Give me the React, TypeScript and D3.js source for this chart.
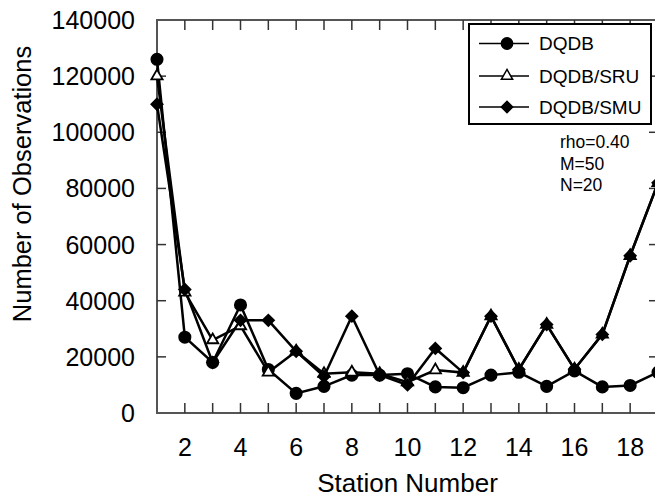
import React, { useEffect, useRef } from 'react';
import * as d3 from 'd3';

// station numbers on the x axis
const stations = [1, 2, 3, 4, 5, 6, 7, 8, 9, 10, 11, 12, 13, 14, 15, 16, 17, 18, 19];

// number of observations per station
const dqdb = [126000, 27000, 18000, 38500, 15500, 7000, 9500, 13500, 13500, 14000, 9300, 9000, 13500, 14500, 9500, 15000, 9300, 9800, 14500];
const dqdbSru = [120000, 43000, 26000, 31000, 14500, 22000, 14000, 14500, 14000, 11000, 15300, 14400, 34500, 15500, 31500, 15600, 28000, 56000, 82000];
const dqdbSmu = [110000, 44000, 18000, 33000, 33000, 22000, 13000, 34500, 13500, 10000, 23000, 14400, 34500, 15500, 31500, 15600, 28000, 56000, 82000];

const seriesNames = ['DQDB', 'DQDB/SRU', 'DQDB/SMU'];
const yTicks = [0, 20000, 40000, 60000, 80000, 100000, 120000, 140000];
const xLabels = [2, 4, 6, 8, 10, 12, 14, 16, 18];
const notes = ['rho=0.40', 'M=50', 'N=20'];

const width = 655;
const height = 499;
const margin = { top: 20, right: -3, bottom: 86, left: 157 };
const font = "'Liberation Sans', Arial, Helvetica, sans-serif";

export default function App() {
  const ref = useRef<SVGSVGElement>(null);

  useEffect(() => {
    const svg = d3.select(ref.current);
    svg.selectAll('*').remove();

    const x = d3.scaleLinear()
      .domain([1, 19])
      .range([margin.left, width - margin.right]);

    const y = d3.scaleLinear()
      .domain([0, 140000])
      .range([height - margin.bottom, margin.top]);

    const x0 = x.range()[0], x1 = x.range()[1];
    const y0 = y.range()[0], y1 = y.range()[1];

    // frame
    svg.append('rect')
      .attr('x', x0).attr('y', y1)
      .attr('width', x1 - x0).attr('height', y0 - y1)
      .attr('fill', 'none')
      .attr('stroke', '#555')
      .attr('stroke-width', 2);

    // inward ticks: bottom/top at every station, left/right every 20000
    const tickG = svg.append('g').attr('stroke', '#333').attr('stroke-width', 1.5);
    stations.slice(1, -1).forEach(s => {
      tickG.append('line').attr('x1', x(s)).attr('x2', x(s)).attr('y1', y0).attr('y2', y0 - 10);
      tickG.append('line').attr('x1', x(s)).attr('x2', x(s)).attr('y1', y1).attr('y2', y1 + 10);
    });
    yTicks.slice(1, -1).forEach(v => {
      tickG.append('line').attr('x1', x0).attr('x2', x0 + 9).attr('y1', y(v)).attr('y2', y(v));
      tickG.append('line').attr('x1', x1).attr('x2', x1 - 9).attr('y1', y(v)).attr('y2', y(v));
    });

    // tick labels
    svg.append('g')
      .selectAll('text')
      .data(yTicks)
      .join('text')
      .attr('x', 135)
      .attr('y', d => y(d))
      .attr('dy', '0.36em')
      .attr('text-anchor', 'end')
      .attr('font-family', font)
      .attr('font-size', 25)
      .text(d => d);

    svg.append('g')
      .selectAll('text')
      .data(xLabels)
      .join('text')
      .attr('x', d => x(d))
      .attr('y', 456)
      .attr('text-anchor', 'middle')
      .attr('font-family', font)
      .attr('font-size', 25)
      .text(d => d);

    // axis titles
    svg.append('text')
      .attr('x', (x0 + x1) / 2)
      .attr('y', 492)
      .attr('text-anchor', 'middle')
      .attr('font-family', font)
      .attr('font-size', 26)
      .text('Station Number');

    svg.append('text')
      .attr('transform', 'translate(31,184) rotate(-90)')
      .attr('text-anchor', 'middle')
      .attr('font-family', font)
      .attr('font-size', 25.5)
      .text('Number of Observations');

    // series
    const line = d3.line<number>()
      .x((d, i) => x(stations[i]))
      .y(d => y(d));

    const circle = d3.symbol().type(d3.symbolCircle).size(100);
    const tri = d3.symbol().type(d3.symbolTriangle).size(55);
    const diamond = d3.symbol().type(d3.symbolSquare).size(64);

    const series = [
      { values: dqdb, marker: circle, fill: '#000', rot: 0 },
      { values: dqdbSru, marker: tri, fill: '#fff', rot: 0 },
      { values: dqdbSmu, marker: diamond, fill: '#000', rot: 45 },
    ];

    const plot = svg.append('g');
    series.forEach(s => {
      plot.append('path')
        .attr('d', line(s.values))
        .attr('fill', 'none')
        .attr('stroke', '#000')
        .attr('stroke-width', 2.5);
    });
    series.forEach(s => {
      plot.append('g')
        .selectAll('path')
        .data(s.values)
        .join('path')
        .attr('d', s.marker)
        .attr('transform', (d, i) => `translate(${x(stations[i])},${y(d)}) rotate(${s.rot})`)
        .attr('fill', s.fill)
        .attr('stroke', '#000')
        .attr('stroke-width', 1.8);
    });

    // legend
    const lg = svg.append('g');
    lg.append('rect')
      .attr('x', 469).attr('y', 24)
      .attr('width', 182).attr('height', 100)
      .attr('fill', '#fff')
      .attr('stroke', '#000')
      .attr('stroke-width', 2);

    const rows = [43.5, 76, 107];
    series.forEach((s, i) => {
      lg.append('line')
        .attr('x1', 479).attr('x2', 529)
        .attr('y1', rows[i]).attr('y2', rows[i])
        .attr('stroke', '#000').attr('stroke-width', 1.5);
      lg.append('path')
        .attr('d', s.marker)
        .attr('transform', `translate(507,${rows[i]}) rotate(${s.rot})`)
        .attr('fill', s.fill)
        .attr('stroke', '#000')
        .attr('stroke-width', 1.5);
      lg.append('text')
        .attr('x', 539)
        .attr('y', rows[i])
        .attr('dy', '0.36em')
        .attr('font-family', font)
        .attr('font-size', 19)
        .text(seriesNames[i]);
    });

    // run parameters
    svg.append('g')
      .selectAll('text')
      .data(notes)
      .join('text')
      .attr('x', 560)
      .attr('y', (d, i) => 148 + i * 21.5)
      .attr('font-family', font)
      .attr('font-size', 17.5)
      .text(d => d);
  }, []);

  return (
    <svg
      ref={ref}
      width={width}
      height={height}
      style={{ position: 'absolute', left: 0, top: 0, background: '#fff' }}
    />
  );
}
